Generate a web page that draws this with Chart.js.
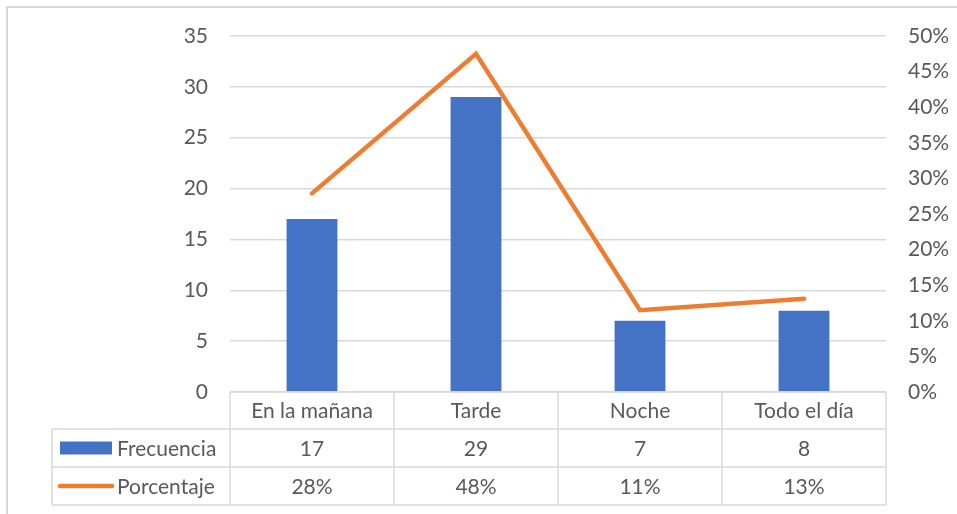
<!DOCTYPE html>
<html><head><meta charset="utf-8">
<script src="https://cdn.jsdelivr.net/npm/chart.js@4"></script>
<style>html,body{margin:0;padding:0;background:#fff;}canvas{display:block;}</style>
</head><body>
<canvas id="c" width="957" height="514"></canvas>
<script>
const categories = ["En la mañana", "Tarde", "Noche", "Todo el día"];
const frecuencia = [17, 29, 7, 8];
const porcentaje = [0.279, 0.475, 0.115, 0.131];
const porcentajeLabels = ["28%", "48%", "11%", "13%"];
const seriesNames = ["Frecuencia", "Porcentaje"];

const FONT = "Lato";
const FS = 21;
const TXT = "#595959";
const GRID = "#d9d9d9";
const BLUE = "#4472C4";
const ORANGE = "#ED7D31";

const tablePlugin = {
  id: "dataTable",
  afterDraw(chart) {
    const ctx = chart.ctx;
    const xs = chart.scales.x;
    const ca = chart.chartArea;
    const n = categories.length;
    const colW = (ca.right - ca.left) / n;
    const y0 = ca.bottom, y1 = y0 + 37, y2 = y1 + 38, y3 = y2 + 38;
    const legL = 52;
    ctx.save();
    // outer border
    ctx.strokeStyle = GRID; ctx.lineWidth = 2;
    ctx.beginPath();
    ctx.moveTo(7, 514); ctx.lineTo(7, 7); ctx.lineTo(957, 7);
    ctx.stroke();
    // table lines
    ctx.lineWidth = 1.5;
    ctx.beginPath();
    ctx.moveTo(ca.left, y0); ctx.lineTo(ca.right, y0);
    [y1, y2, y3].forEach(y => { ctx.moveTo(legL, y); ctx.lineTo(ca.right, y); });
    ctx.moveTo(legL, y1); ctx.lineTo(legL, y3);
    for (let i = 0; i <= n; i++) {
      const x = ca.left + i * colW;
      ctx.moveTo(x, y0); ctx.lineTo(x, y3);
    }
    ctx.stroke();
    // texts
    ctx.fillStyle = TXT;
    ctx.font = FS + "px " + FONT;
    ctx.textAlign = "center"; ctx.textBaseline = "middle";
    categories.forEach((c, i) => {
      const x = xs.getPixelForValue(i);
      ctx.fillText(c, x, (y0 + y1) / 2 + 1);
      ctx.fillText(String(frecuencia[i]), x, (y1 + y2) / 2 + 1);
      ctx.fillText(porcentajeLabels[i], x, (y2 + y3) / 2 + 1);
    });
    // legend keys
    ctx.fillStyle = BLUE;
    ctx.fillRect(60, (y1 + y2) / 2 - 6.5, 52, 13);
    ctx.strokeStyle = ORANGE; ctx.lineWidth = 4.5; ctx.lineCap = "round";
    ctx.beginPath();
    ctx.moveTo(60, (y2 + y3) / 2); ctx.lineTo(112, (y2 + y3) / 2);
    ctx.stroke();
    ctx.fillStyle = TXT; ctx.textAlign = "left";
    ctx.fillText(seriesNames[0], 117, (y1 + y2) / 2 + 1);
    ctx.fillText(seriesNames[1], 117, (y2 + y3) / 2 + 1);
    ctx.restore();
  }
};

new Chart(document.getElementById("c"), {
  data: {
    labels: categories,
    datasets: [
      {
        type: "line", label: seriesNames[1], data: porcentaje, yAxisID: "y1",
        borderColor: ORANGE, borderWidth: 4.5, pointRadius: 0, tension: 0,
        borderCapStyle: "round", borderJoinStyle: "miter", order: 0
      },
      {
        type: "bar", label: seriesNames[0], data: frecuencia, yAxisID: "y",
        backgroundColor: BLUE, barPercentage: 0.31, categoryPercentage: 1, order: 1
      }
    ]
  },
  options: {
    responsive: false, animation: false, devicePixelRatio: 1,
    layout: { padding: { top: 36, left: 0, right: 0, bottom: 0 } },
    plugins: { legend: { display: false }, tooltip: { enabled: false } },
    scales: {
      x: {
        ticks: { display: false }, grid: { display: false }, border: { display: false },
        afterFit(s) { s.height = 122; }
      },
      y: {
        position: "left", min: 0, max: 35,
        ticks: { stepSize: 5, padding: 22, color: TXT, font: { family: FONT, size: FS } },
        grid: { color: GRID, lineWidth: 1.5, drawTicks: false }, border: { display: false },
        afterFit(s) { s.width = 230; }
      },
      y1: {
        position: "right", min: 0, max: 0.5,
        ticks: { stepSize: 0.05, padding: 22, color: TXT, font: { family: FONT, size: FS },
          callback: v => Math.round(v * 100) + "%" },
        grid: { display: false, drawTicks: false }, border: { display: false },
        afterFit(s) { s.width = 71; }
      }
    }
  },
  plugins: [tablePlugin]
});
</script>
</body></html>
